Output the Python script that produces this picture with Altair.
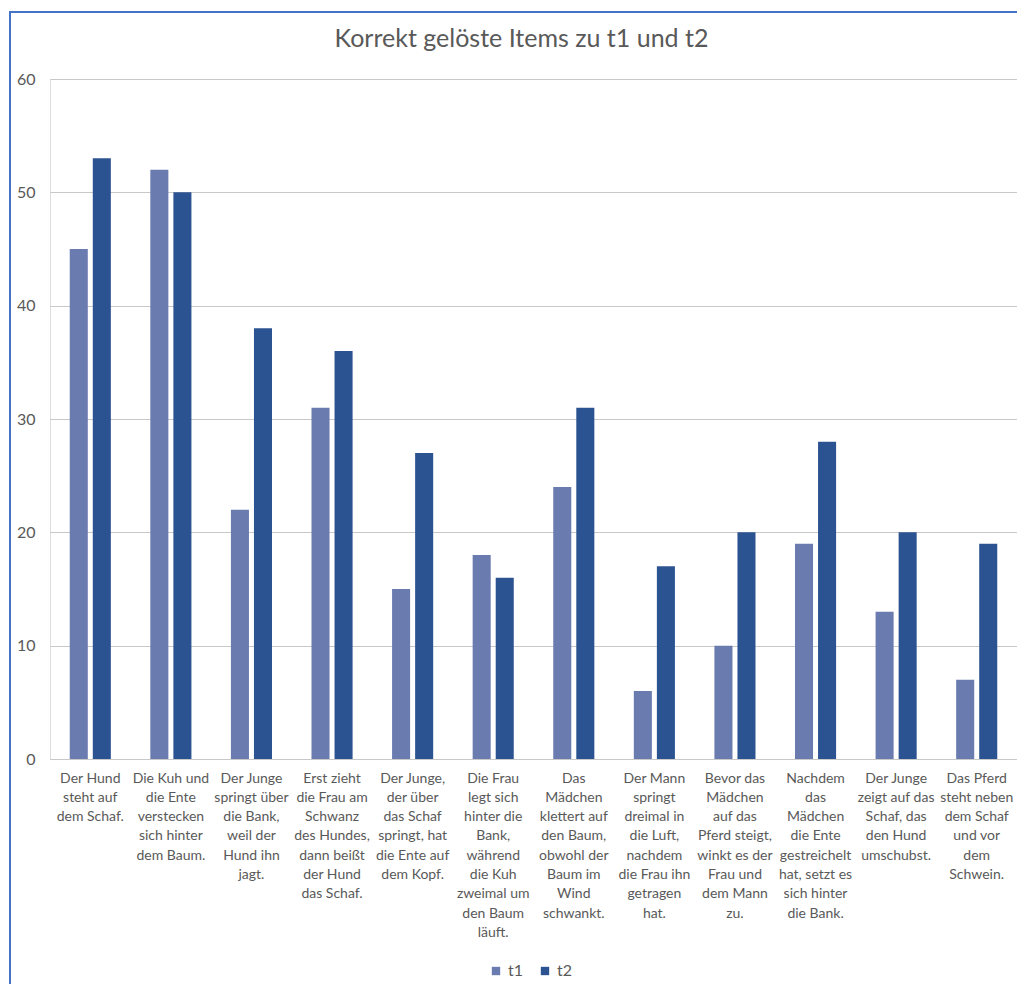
import altair as alt
import pandas as pd

categories = [
    "Der Hund|steht auf|dem Schaf.",
    "Die Kuh und|die Ente|verstecken|sich hinter|dem Baum.",
    "Der Junge|springt über|die Bank,|weil der|Hund ihn|jagt.",
    "Erst zieht|die Frau am|Schwanz|des Hundes,|dann beißt|der Hund|das Schaf.",
    "Der Junge,|der über|das Schaf|springt, hat|die Ente auf|dem Kopf.",
    "Die Frau|legt sich|hinter die|Bank,|während|die Kuh|zweimal um|den Baum|läuft.",
    "Das|Mädchen|klettert auf|den Baum,|obwohl der|Baum im|Wind|schwankt.",
    "Der Mann|springt|dreimal in|die Luft,|nachdem|die Frau ihn|getragen|hat.",
    "Bevor das|Mädchen|auf das|Pferd steigt,|winkt es der|Frau und|dem Mann|zu.",
    "Nachdem|das|Mädchen|die Ente|gestreichelt|hat, setzt es|sich hinter|die Bank.",
    "Der Junge|zeigt auf das|Schaf, das|den Hund|umschubst.",
    "Das Pferd|steht neben|dem Schaf|und vor|dem|Schwein.",
]
t1 = [45, 52, 22, 31, 15, 18, 24, 6, 10, 19, 13, 7]
t2 = [53, 50, 38, 36, 27, 16, 31, 17, 20, 28, 20, 19]
series = ["t1", "t2"]
colors = ["#6a7bb0", "#2c5391"]
title_text = "Korrekt gelöste Items zu t1 und t2"

rows = []
for c, a, b in zip(categories, t1, t2):
    rows.append({"item": c, "serie": "t1", "wert": a})
    rows.append({"item": c, "serie": "t2", "wert": b})
df = pd.DataFrame(rows)

FONT = "Lato"
TXT = "#595959"
W, H = 967, 680

bars = alt.Chart(df).mark_bar().encode(
    x=alt.X("item:N", sort=categories, title=None,
            scale=alt.Scale(paddingInner=0.49, paddingOuter=0.245),
            axis=alt.Axis(labelExpr="split(datum.label, '|')", labelAngle=0,
                          labelAlign="center", labelBaseline="top",
                          labelPadding=12, labelLineHeight=19.3,
                          labelFontSize=14, labelColor=TXT, labelFont=FONT,
                          ticks=False, domainColor="#c8c8c8", domainWidth=1,
                          labelLimit=0)),
    xOffset=alt.XOffset("serie:N", sort=series,
                        scale=alt.Scale(paddingInner=0.217, paddingOuter=0)),
    y=alt.Y("wert:Q", title=None,
            scale=alt.Scale(domain=[0, 60], nice=False),
            axis=alt.Axis(values=[0, 10, 20, 30, 40, 50, 60], domain=False,
                          ticks=False, labelPadding=15, labelFontSize=16,
                          labelColor=TXT, labelFont=FONT,
                          gridColor="#c8c8c8", gridWidth=1)),
    color=alt.Color("serie:N", sort=series,
                    scale=alt.Scale(domain=series, range=colors),
                    legend=alt.Legend(title=None, orient="none",
                                      direction="horizontal",
                                      legendX=438, legendY=884,
                                      symbolType="square", symbolSize=70,
                                      symbolStrokeWidth=0,
                                      labelFontSize=16, labelColor=TXT,
                                      labelFont=FONT, columnPadding=13,
                                      labelOffset=4, padding=0)),
)

frame_df = pd.DataFrame({"k": [0]})
top_line = alt.Chart(frame_df).mark_rule(color="#4472c4", strokeWidth=2).encode(
    x=alt.value(-41), x2=alt.value(W), y=alt.value(-67))
left_line = alt.Chart(frame_df).mark_rule(color="#4472c4", strokeWidth=2).encode(
    x=alt.value(-40), y=alt.value(-67), y2=alt.value(984 - 79))
title_mark = alt.Chart(frame_df).mark_text(
    text=title_text, font=FONT, fontSize=25, color=TXT,
    align="center", baseline="alphabetic").encode(
    x=alt.value(521.5 - 50), y=alt.value(47 - 79))

chart = alt.layer(bars, top_line, left_line, title_mark).properties(
    width=W, height=H,
    autosize=alt.AutoSizeParams(type="none"),
    padding={"left": 50, "top": 79, "right": 0, "bottom": 225},
).configure_view(stroke=None).configure(background="white")

chart.save("out.html", embed_options={"renderer": "svg", "actions": False})
